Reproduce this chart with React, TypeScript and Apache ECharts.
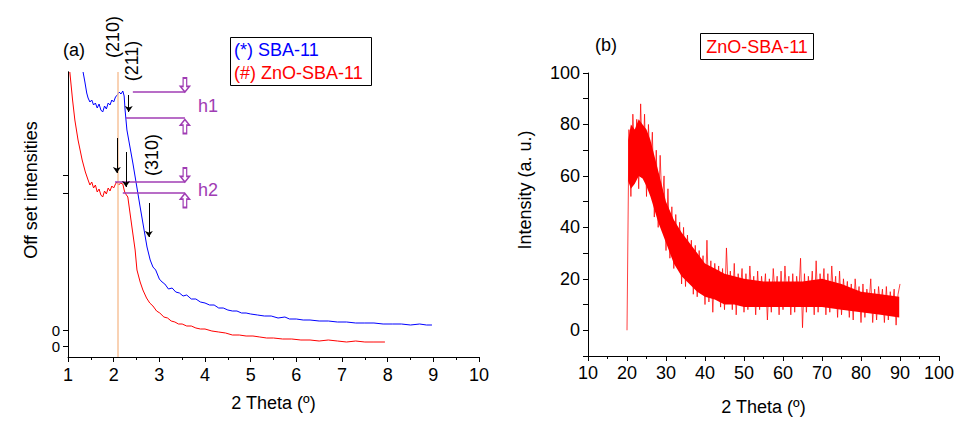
import React, { useEffect, useRef } from 'react';
import * as echarts from 'echarts';

const FONT = '"Liberation Sans", Arial, Helvetica, sans-serif';
const BLUE = '#0000ff';
const RED = '#ff0000';
const PURPLE = '#a03cb4';
const ORANGE = '#f7c39b';

// ---------- Panel (a): low-angle XRD, offset curves ----------
const sbaTheta = [1.33, 1.37, 1.41, 1.44, 1.48, 1.52, 1.56, 1.60, 1.64, 1.68, 1.72, 1.76, 1.80, 1.84, 1.88, 1.92, 1.96, 2.00, 2.04, 2.08, 2.12, 2.16, 2.20, 2.23, 2.25, 2.29, 2.42, 2.58, 2.73, 2.80, 2.86, 2.92, 3.00, 3.06, 3.12, 3.20, 3.28, 3.36, 3.44, 3.52, 3.60, 3.70, 3.80, 3.90, 4.00, 4.10, 4.20, 4.30, 4.40, 4.50, 4.60, 4.70, 4.80, 4.90, 5.00, 5.15, 5.30, 5.45, 5.60, 5.75, 5.85, 6.00, 6.15, 6.30, 6.50, 6.70, 6.90, 7.10, 7.30, 7.50, 7.70, 7.90, 8.10, 8.30, 8.50, 8.70, 8.85, 8.97];
const sbaIntensity = [258, 248, 237, 232, 228, 230, 225, 227, 222, 226, 220, 218, 224, 221, 227, 225, 230, 228, 233, 235, 238, 236, 239, 234, 220, 200, 167, 123, 83, 70, 63, 60, 51, 48, 46, 41, 42, 38, 37, 34, 35, 31, 31, 28, 27, 25, 25, 22, 22, 20, 19, 19, 17, 17, 16, 15, 14, 14, 12, 13, 11, 11, 10, 10, 9, 9, 8, 8, 7, 7, 7, 6, 6, 6, 5, 6, 5, 5];
const sbaOffset = 16;

const znoTheta = [1.04, 1.10, 1.15, 1.22, 1.31, 1.38, 1.44, 1.48, 1.52, 1.56, 1.60, 1.64, 1.68, 1.72, 1.76, 1.80, 1.84, 1.88, 1.92, 1.96, 2.00, 2.04, 2.07, 2.11, 2.15, 2.20, 2.23, 2.25, 2.31, 2.40, 2.47, 2.51, 2.58, 2.64, 2.72, 2.79, 2.86, 2.94, 3.01, 3.10, 3.18, 3.26, 3.34, 3.42, 3.50, 3.60, 3.70, 3.80, 3.90, 4.00, 4.15, 4.30, 4.45, 4.60, 4.75, 4.90, 5.05, 5.20, 5.35, 5.50, 5.70, 5.90, 6.10, 6.30, 6.50, 6.70, 6.90, 7.10, 7.30, 7.50, 7.70, 7.94];
const znoIntensity = [274, 246, 226, 206, 186, 174, 166, 161, 164, 158, 161, 154, 157, 151, 149, 155, 152, 158, 155, 160, 158, 162, 164, 161, 163, 162, 156, 153, 149, 119, 96, 76, 64, 56, 48, 43, 40, 35, 33, 29, 28, 25, 24, 22, 22, 20, 20, 18, 17, 17, 15, 14, 13, 11, 11, 10, 10, 9, 8, 8, 7, 7, 6, 6, 5, 6, 5, 4, 5, 4, 4, 4];

// tick positions on the offset axis
const sbaTicks = [sbaOffset, 153, 171];
const znoTicks = [0];
const peak210 = 2.09;

// annotation arrows [theta, from, to]
const arrowMarks = [
  [2.09, 281, 263],
  [2.33, 251, 234],
  [2.07, 208, 173],
  [2.27, 194, 159],
  [2.77, 143, 109],
];
// purple level lines [thetaStart, thetaEnd, level]
const levelLines = [
  [2.42, 3.56, 254],
  [2.27, 3.56, 228],
  [2.03, 3.56, 164],
  [2.20, 3.56, 153],
];
// purple open arrows [theta, level, rotate]
const openArrows = [
  [3.56, 261, 0],
  [3.56, 219.5, 180],
  [3.56, 171, 0],
  [3.56, 145.5, 180],
];

// ---------- Panel (b): wide-angle XRD ----------
const bStart = 20;
const bStep = 0.5;
const bIntensity = [
  0, 78, 52, 84, 66, 82, 55, 88, 62, 84,
  52, 80, 60, 77, 44, 70, 40, 68, 48, 60,
  31, 55, 28, 48, 24, 45, 28, 42, 18, 40,
  17, 37, 22, 35, 14, 33, 13, 31, 18, 29,
  10, 35, 11, 27, 7, 26, 15, 25, 9, 24,
  8, 32, 14, 23, 8, 26, 6, 22, 14, 24,
  7, 22, 8, 25, 13, 21, 6, 23, 8, 21,
  12, 22, 4, 20, 7, 24, 13, 21, 6, 23,
  8, 25, 12, 21, 6, 22, 7, 21, 13, 28,
  1, 22, 7, 21, 12, 23, 6, 27, 7, 22,
  13, 24, 6, 22, 7, 25, 12, 21, 5, 23,
  6, 20, 11, 19, 5, 18, 4, 20, 10, 17,
  3, 18, 5, 16, 9, 20, 3, 16, 4, 17,
  9, 16, 3, 17, 4, 15, 8, 16, 2, 14,
  18,
];
const bCoreTheta = [20.3, 21, 22, 23, 24, 25, 26, 27, 28, 29, 30, 32, 34, 36, 38, 40, 42.5, 45, 47.5, 50, 55, 60, 65, 70, 75, 80, 85, 89.8];
const bCoreLow = [58, 55, 57, 60, 59, 56, 52, 47, 42, 38, 34, 26, 21, 18, 15, 13, 12, 10, 10, 9, 9, 9, 9, 9, 8, 7, 6, 5];
const bCoreHigh = [74, 80, 78, 82, 80, 78, 74, 68, 62, 56, 50, 43, 38, 34, 30, 26, 24, 22, 21, 20, 19, 19, 19, 20, 18, 15, 14, 13];

const axisBase = {
  axisLine: { show: true, onZero: false, lineStyle: { color: '#000', width: 1 } },
  axisTick: { show: true, length: 5, interval: 0, lineStyle: { color: '#000', width: 1 } },
  splitLine: { show: false },
  axisLabel: { color: '#000', fontSize: 18, fontFamily: FONT, hideOverlap: false, interval: 0 },
  nameTextStyle: { color: '#000', fontSize: 18, fontFamily: FONT },
  nameLocation: 'middle' as const,
};

export default function App() {
  const ref = useRef<HTMLDivElement>(null);

  useEffect(() => {
    if (!ref.current) return;
    const chart = echarts.init(ref.current, undefined, { renderer: 'svg' });

    const sbaData = sbaTheta.map((t, i) => [t, sbaIntensity[i] + sbaOffset]);
    const znoData = znoTheta.map((t, i) => [t, znoIntensity[i]]);
    const bData = bIntensity.map((v, i) => [bStart + i * bStep, v]);

    const arrowData = arrowMarks.map(([x, a, b]) => [
      { coord: [x, a] },
      { coord: [x, b] },
    ]);
    const levelData = levelLines.map(([x0, x1, y]) => [
      { coord: [x0, y], lineStyle: { color: PURPLE, width: 1.5 } },
      { coord: [x1, y] },
    ]);

    const text = (t: string, x: number, y: number, fill: string, extra: any = {}) => ({
      type: 'text',
      x,
      y,
      z: 100,
      ...extra,
      style: {
        text: t,
        fill,
        font: `18px ${FONT}`,
        align: extra.align || 'left',
        verticalAlign: 'middle',
      },
    });

    const offsetAxis = (ticks: number[], labelAt: number) => ({
      ...axisBase,
      gridIndex: 0,
      type: 'value',
      position: 'left',
      offset: 0,
      min: -11,
      max: 274,
      axisLabel: {
        ...axisBase.axisLabel,
        fontSize: 15,
        lineHeight: 15,
        customValues: [labelAt],
        formatter: () => '0',
        showMinLabel: true,
        showMaxLabel: true,
      },
      axisTick: { ...axisBase.axisTick, customValues: ticks },
    });

    chart.setOption({
      animation: false,
      backgroundColor: '#fff',
      grid: [
        { left: 68, top: 72, width: 411, height: 285 },
        { left: 588, top: 73, width: 351, height: 283 },
      ],
      xAxis: [
        {
          ...axisBase,
          gridIndex: 0,
          type: 'value',
          min: 1,
          max: 10,
          interval: 1,
          minorTick: { show: true, splitNumber: 2, length: 3, lineStyle: { color: '#000' } },
          axisLabel: { ...axisBase.axisLabel, margin: 9 },
          name: '2 Theta (º)',
          nameGap: 37,
        },
        {
          ...axisBase,
          gridIndex: 1,
          type: 'value',
          min: 10,
          max: 100,
          interval: 10,
          minorTick: { show: true, splitNumber: 2, length: 3, lineStyle: { color: '#000' } },
          name: '2 Theta (º)',
          nameGap: 42,
        },
      ],
      yAxis: [
        offsetAxis(znoTicks, 0),
        {
          ...axisBase,
          gridIndex: 1,
          type: 'value',
          min: -10,
          max: 100,
          interval: 10,
          axisLabel: {
            ...axisBase.axisLabel,
            formatter: (v: number) => (v >= 0 && v % 20 === 0 ? String(v) : ''),
          },
        },
        offsetAxis(sbaTicks, sbaOffset),
      ],
      series: [
        {
          type: 'line',
          name: 'ZnO-SBA-11 (a)',
          xAxisIndex: 0,
          yAxisIndex: 0,
          data: znoData,
          showSymbol: false,
          clip: false,
          lineStyle: { color: RED, width: 1 },
          z: 3,
          markLine: {
            silent: true,
            symbol: ['none', 'none'],
            label: { show: false },
            lineStyle: { color: ORANGE, width: 1.5, type: 'solid' },
            data: [
              [
                { coord: [peak210, -11] },
                { coord: [peak210, 274] },
              ],
              ...levelData,
            ],
          },
          markPoint: {
            silent: true,
            symbol: 'path://M3,0L7,0L7,9L10,9L5,15L0,9L3,9Z',
            symbolSize: [9, 14],
            itemStyle: { color: 'rgba(255,255,255,0)', borderColor: PURPLE, borderWidth: 1.5 },
            label: { show: false },
            data: openArrows.map(([x, y, r]) => ({ coord: [x, y], symbolRotate: r })),
          },
        },
        {
          type: 'line',
          name: 'SBA-11 (a)',
          xAxisIndex: 0,
          yAxisIndex: 2,
          data: sbaData,
          showSymbol: false,
          clip: false,
          lineStyle: { color: BLUE, width: 1 },
          z: 4,
          markLine: {
            silent: true,
            symbol: ['none', 'arrow'],
            symbolSize: 6,
            label: { show: false },
            lineStyle: { color: '#000', width: 1, type: 'solid' },
            data: arrowData,
          },
        },
        {
          type: 'custom',
          name: 'core',
          xAxisIndex: 1,
          yAxisIndex: 1,
          data: [[bCoreTheta[0], bCoreLow[0]]],
          silent: true,
          z: 2,
          renderItem: (_p: any, api: any) => {
            const pts: number[][] = [];
            for (let i = 0; i < bCoreTheta.length; i++) pts.push(api.coord([bCoreTheta[i], bCoreHigh[i]]));
            for (let i = bCoreTheta.length - 1; i >= 0; i--) pts.push(api.coord([bCoreTheta[i], bCoreLow[i]]));
            return { type: 'polygon', shape: { points: pts }, style: { fill: RED } };
          },
        },
        {
          type: 'line',
          name: 'ZnO-SBA-11 (b)',
          xAxisIndex: 1,
          yAxisIndex: 1,
          data: bData,
          showSymbol: false,
          lineStyle: { color: RED, width: 1, opacity: 0.75 },
          z: 3,
        },
      ],
      graphic: [
        text('(a)', 63, 50, '#000'),
        text('(b)', 595, 45, '#000'),
        {
          type: 'rect',
          z: 100,
          shape: { x: 230.5, y: 37.5, width: 141, height: 48 },
          style: { fill: 'none', stroke: '#000', lineWidth: 1 },
        },
        text('(*) SBA-11', 234, 50, BLUE),
        text('(#) ZnO-SBA-11', 234, 73, RED),
        {
          type: 'rect',
          z: 100,
          shape: { x: 700.5, y: 33.5, width: 113, height: 26 },
          style: { fill: 'none', stroke: '#000', lineWidth: 1 },
        },
        text('ZnO-SBA-11', 757, 46.5, RED, { align: 'center' }),
        text('h1', 198, 106, PURPLE),
        text('h2', 198, 190, PURPLE),
        text('(210)', 113, 37, '#000', { rotation: Math.PI / 2, align: 'center' }),
        text('(211)', 132, 61, '#000', { rotation: Math.PI / 2, align: 'center' }),
        text('(310)', 152, 155, '#000', { rotation: Math.PI / 2, align: 'center' }),
        text('Off set intensities', 31, 190, '#000', { rotation: Math.PI / 2, align: 'center' }),
        text('Intensity (a. u.)', 525, 190, '#000', { rotation: Math.PI / 2, align: 'center' }),
      ],
    });

    return () => chart.dispose();
  }, []);

  return (
    <div
      ref={ref}
      style={{ position: 'fixed', left: 0, top: 0, width: 979, height: 421, background: '#fff' }}
    />
  );
}
